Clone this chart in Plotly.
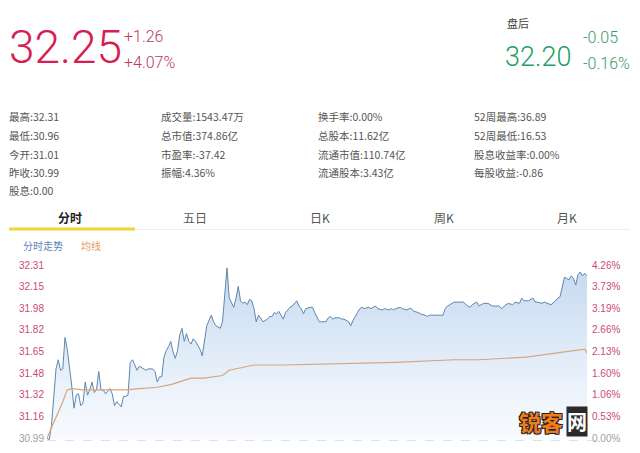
import plotly.graph_objects as go

# The page body keeps its default 8px margin on every side, so the figure is
# sized to fit exactly inside the 640x453 window; positions are window pixels.
OFF = 8
W, H = 640 - 2 * OFF, 453 - 2 * OFF


def px(x):
    return (x - OFF) / W


def py(y):
    return 1 - (y - OFF) / H


# ---------------- data ----------------
prev_close = 30.99
day_high = 32.31

minutes = [0, 1, 2, 3, 4, 5, 6, 7, 8, 9, 10, 11, 12, 13, 14, 15, 16, 17, 18, 19,
           20, 21, 22, 23, 24, 25, 26, 28, 29, 30, 31, 32, 33, 34, 35, 36, 37, 38, 39, 40,
           41, 42, 44, 45, 47, 48, 49, 50, 51, 52, 53, 54, 55, 56, 57, 58, 59, 60, 61, 62,
           63, 64, 65, 66, 68, 69, 70, 71, 72, 73, 74, 75, 76, 77, 78, 79, 80, 81, 82, 83,
           84, 85, 86, 87, 88, 89, 90, 91, 92, 93, 94, 95, 96, 97, 98, 99, 100, 101, 102, 103,
           104, 105, 106, 108, 109, 110, 111, 112, 113, 114, 115, 117, 118, 119, 120, 121, 122, 124, 125, 126,
           127, 128, 130, 131, 132, 134, 135, 136, 138, 139, 140, 141, 143, 144, 146, 147, 149, 150, 152, 153,
           154, 155, 157, 158, 160, 161, 162, 163, 165, 166, 168, 169, 170, 172, 174, 176, 177, 178, 179, 181,
           183, 185, 187, 188, 189, 191, 192, 194, 196, 198, 201, 202, 204, 205, 207, 208, 210, 211, 212, 214,
           216, 217, 218, 220, 221, 223, 224, 226, 227, 228, 229, 230, 231, 232, 233, 234, 235, 236, 237, 238,
           239, 240]
prices = [31.01, 31.00, 31.11, 31.34, 31.54, 31.61, 31.53, 31.54, 31.78, 31.69, 31.57, 31.41, 31.24, 31.34, 31.35, 31.26, 31.28, 31.44, 31.34, 31.38,
          31.44, 31.36, 31.38, 31.52, 31.38, 31.38, 31.35, 31.39, 31.35, 31.26, 31.29, 31.27, 31.25, 31.33, 31.33, 31.34, 31.59, 31.61, 31.57, 31.53,
          31.56, 31.55, 31.53, 31.54, 31.54, 31.52, 31.44, 31.48, 31.48, 31.63, 31.68, 31.71, 31.75, 31.67, 31.62, 31.68, 31.80, 31.85, 31.75, 31.81,
          31.75, 31.73, 31.77, 31.75, 31.69, 31.64, 31.75, 31.87, 31.91, 31.95, 31.90, 31.87, 31.86, 31.85, 31.90, 32.10, 32.31, 32.08, 32.04, 32.01,
          32.08, 32.17, 32.06, 32.04, 32.05, 32.03, 32.07, 32.06, 32.00, 31.90, 31.95, 31.92, 31.90, 31.91, 31.92, 31.94, 31.94, 31.97, 31.96, 31.98,
          31.95, 31.92, 31.97, 32.01, 32.02, 32.04, 32.06, 32.02, 32.00, 31.96, 32.00, 32.01, 32.01, 31.97, 31.94, 31.90, 31.90, 31.90, 31.93, 31.94,
          31.92, 31.93, 31.93, 31.92, 31.92, 31.90, 31.87, 31.91, 31.97, 32.00, 32.01, 32.00, 32.01, 32.00, 32.02, 32.00, 31.99, 32.00, 31.99, 32.00,
          31.99, 32.00, 32.01, 32.00, 31.99, 32.00, 32.00, 31.98, 31.97, 31.96, 31.95, 31.94, 31.95, 31.95, 31.95, 31.95, 32.00, 32.02, 32.03, 32.05,
          32.05, 32.05, 32.02, 32.01, 32.03, 32.05, 32.02, 32.04, 32.04, 32.02, 32.02, 32.00, 32.03, 32.04, 32.03, 32.05, 32.04, 32.08, 32.06, 32.06,
          32.08, 32.05, 32.05, 32.04, 32.05, 32.04, 32.03, 32.06, 32.08, 32.09, 32.18, 32.24, 32.23, 32.22, 32.25, 32.23, 32.18, 32.26, 32.28, 32.25,
          32.27, 32.25]

avg_minutes = [0, 1, 4, 7, 9, 11, 16, 27, 35, 41, 49, 55, 61, 64, 70, 78, 81, 86, 92, 105,
               128, 155, 181, 192, 213, 227, 239, 240]
avg_prices = [31.01, 31.05, 31.16, 31.29, 31.38, 31.39, 31.38, 31.38, 31.38, 31.39, 31.40, 31.42, 31.45, 31.47, 31.47, 31.49,
              31.53, 31.55, 31.57, 31.57, 31.58, 31.59, 31.61, 31.61, 31.63, 31.66, 31.69, 31.66]

tick_values = [30.99, 31.155, 31.32, 31.485, 31.65, 31.815, 31.98, 32.145, 32.31]
left_tick_labels = ["30.99", "31.16", "31.32", "31.48", "31.65", "31.82", "31.98", "32.15", "32.31"]
right_tick_labels = ["0.00%", "0.53%", "1.06%", "1.60%", "2.13%", "2.66%", "3.19%", "3.73%", "4.26%"]

stats_columns = [
    ["最高:32.31", "最低:30.96", "今开:31.01", "昨收:30.99", "股息:0.00"],
    ["成交量:1543.47万", "总市值:374.86亿", "市盈率:-37.42", "振幅:4.36%"],
    ["换手率:0.00%", "总股本:11.62亿", "流通市值:110.74亿", "流通股本:3.43亿"],
    ["52周最高:36.89", "52周最低:16.53", "股息收益率:0.00%", "每股收益:-0.86"],
]
tabs = ["分时", "五日", "日K", "周K", "月K"]

last_price = "32.25"
change = "+1.26"
change_pct = "+4.07%"
after_label = "盘后"
after_price = "32.20"
after_change = "-0.05"
after_pct = "-0.16%"

# ---------------- styling ----------------
RED = "#d81e50"
RED2 = "#b83a62"
GREEN = "#1f9f62"
GREEN2 = "#3a9a6a"
TICK_RED = "#c94b74"
GREY_TICK = "#a0a0a0"
NUM_FONT = "Roboto, Liberation Sans, sans-serif"
CJK = "Noto Sans CJK SC, sans-serif"

fig = go.Figure()

# baseline for the fill
fig.add_trace(go.Scatter(x=[0, 240], y=[prev_close, prev_close], mode="lines",
                         line=dict(width=0, color="rgba(0,0,0,0)"), hoverinfo="skip",
                         showlegend=False))
fig.add_trace(go.Scatter(
    x=minutes, y=prices, mode="lines", fill="tonexty",
    line=dict(color="#5f86ad", width=1),
    fillgradient=dict(type="vertical", start=prev_close, stop=day_high,
                      colorscale=[[0, "#fafcfe"], [0.5, "#e1ecf8"], [1, "#c6d9f0"]]),
    showlegend=False, hoverinfo="skip"))
fig.add_trace(go.Scatter(x=avg_minutes, y=avg_prices, mode="lines",
                         line=dict(color="#d6a57c", width=1.2), showlegend=False, hoverinfo="skip"))
# dummy trace to carry the right axis
fig.add_trace(go.Scatter(x=[0, 240], y=[prev_close, prev_close], yaxis="y2", mode="lines",
                         line=dict(width=0, color="rgba(0,0,0,0)"), showlegend=False, hoverinfo="skip"))


def colored(labels):
    out = []
    for i, t in enumerate(labels):
        c = GREY_TICK if i == 0 else TICK_RED
        out.append(f'<span style="color:{c}">{t}</span>')
    return out


axis_font = dict(family="Liberation Sans, Arial, sans-serif", size=10, color=TICK_RED)
fig.update_layout(
    width=W, height=H, margin=dict(l=0, r=0, t=0, b=0, autoexpand=False),
    paper_bgcolor="white", plot_bgcolor="rgba(0,0,0,0)",
    xaxis=dict(range=[0, 240], domain=[px(47), px(587)], visible=False, fixedrange=True,
               automargin=False),
    yaxis=dict(range=[prev_close, day_high], domain=[py(441), py(268)],
               tickvals=tick_values, ticktext=colored(left_tick_labels),
               showgrid=False, zeroline=False, showline=False, ticks="",
               automargin=False, ticklabeloverflow="allow", ticklabelshift=-3, ticklabelstandoff=2,
               tickfont=axis_font),
    yaxis2=dict(range=[prev_close, day_high], overlaying="y", side="right", anchor="x",
                tickvals=tick_values, ticktext=colored(right_tick_labels),
                showgrid=False, zeroline=False, showline=False, ticks="",
                automargin=False, ticklabeloverflow="allow", ticklabelshift=-3, ticklabelstandoff=4,
                tickfont=axis_font),
    showlegend=False,
)

shapes = []
# dashed previous-close line
shapes.append(dict(type="line", xref="paper", yref="y", x0=px(47), x1=px(600), y0=prev_close, y1=prev_close,
                   line=dict(color="#c4c4c4", width=1, dash="dash")))
# tab underline
shapes.append(dict(type="line", xref="paper", yref="paper", x0=px(135), x1=px(630), y0=py(229.5), y1=py(229.5),
                   line=dict(color="#eeeeee", width=1)))
shapes.append(dict(type="line", xref="paper", yref="paper", x0=px(9), x1=px(135), y0=py(229), y1=py(229),
                   line=dict(color="#f3d335", width=3)))
fig.update_layout(shapes=shapes)

ann = []


def text(x, y, s, size, color, family=CJK, xanchor="left", yanchor="middle", weight=None):
    f = dict(family=family, size=size, color=color)
    if weight:
        f["weight"] = weight
    ann.append(dict(x=px(x), y=py(y), xref="paper", yref="paper", text=s, showarrow=False,
                    xanchor=xanchor, yanchor=yanchor, font=f, borderpad=0))


# header
text(8, 47, last_price, 46, RED, NUM_FONT, weight=300)
text(123, 36, change, 16, RED2, NUM_FONT, weight=300)
text(123, 62, change_pct, 16, RED2, NUM_FONT, weight=300)
text(506, 23, after_label, 11, "#444")
text(504, 57, after_price, 27, GREEN, NUM_FONT, weight=300)
text(582, 37, after_change, 16, GREEN2, NUM_FONT, weight=300)
text(582, 63, after_pct, 16, GREEN2, NUM_FONT, weight=300)

# stats
col_x = [8, 160, 317, 473]
row_y = [117, 136, 154, 172, 190]
for cx, col in zip(col_x, stats_columns):
    for ry, s in zip(row_y, col):
        text(cx, ry, s, 10.5, "#555")

# tabs
tab_x = [70, 195, 320, 444, 567]
for i, (tx, t) in enumerate(zip(tab_x, tabs)):
    text(tx, 217, t, 12, "#222" if i == 0 else "#555", xanchor="center", weight="bold" if i == 0 else None)

# mini legend
text(22, 245, "分时走势", 10, "#5a86b8")
text(80, 245, "均线", 10, "#e39a5a")

# watermark
ann.append(dict(x=px(565), y=py(421), xref="paper", yref="paper", text="<b>锐客</b>", showarrow=False,
                xanchor="right", yanchor="middle",
                font=dict(family=CJK, size=22, color="#f07b1a",
                          shadow="1px 1px 0 #222, -1px -1px 0 #222, 1px -1px 0 #222, -1px 1px 0 #222")))
ann.append(dict(x=px(566), y=py(421), xref="paper", yref="paper", text="<b>网</b>", showarrow=False,
                xanchor="left", yanchor="middle", bgcolor="#2a2a2a", borderpad=0,
                font=dict(family=CJK, size=20, color="white")))

fig.update_layout(annotations=ann)

fig.write_html("out.html")
